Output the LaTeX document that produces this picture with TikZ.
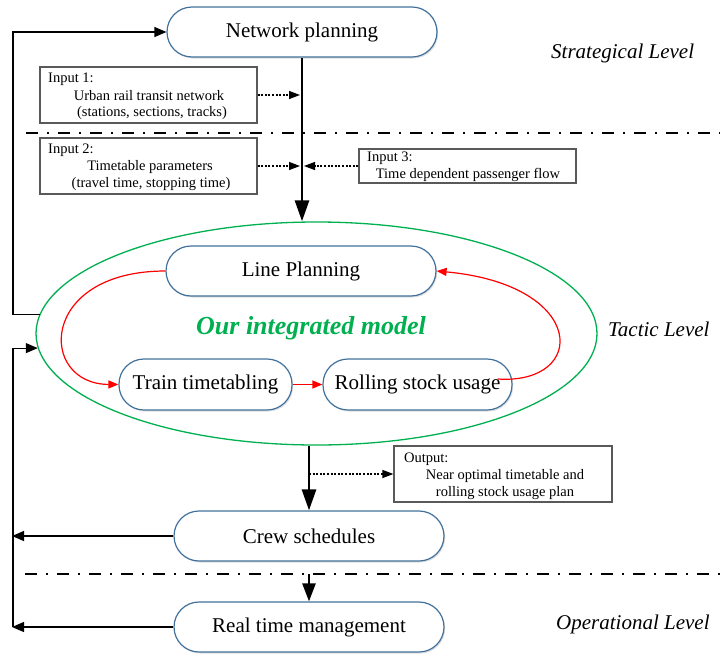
\documentclass[tikz,border=0pt]{standalone}
\usepackage{fontspec}
\setmainfont{Liberation Serif}
\usetikzlibrary{arrows.meta,shapes.geometric,shadows}
\definecolor{boxblue}{HTML}{41719C}
\definecolor{ellgreen}{HTML}{00B050}
\definecolor{boxgray}{HTML}{595959}
\begin{document}
\begin{tikzpicture}[x=1pt,y=-1pt,
  pbox/.style={draw=boxblue, line width=1.2pt, fill=white, rounded corners=25pt,
    font=\fontsize{21}{25}\selectfont, inner sep=0pt,
    drop shadow={shadow xshift=1.2pt, shadow yshift=-1.5pt, opacity=0.25}},
  inbox/.style={draw=boxgray, line width=1.2pt, fill=white, inner sep=0pt},
  small/.style={font=\fontsize{14.5}{17}\selectfont, inner sep=0pt},
  lvl/.style={font=\fontsize{21}{25}\selectfont\itshape, inner sep=0pt, anchor=west},
  thickarr/.style={line width=2.8pt, -{Triangle[length=21pt,width=14pt]}},
  dotarr/.style={line width=1.2pt, dash pattern=on 2pt off 1.6pt, -{Triangle[length=11pt,width=8pt]}},
  fb/.style={line width=1.2pt, -{Triangle[length=12pt,width=10pt]}},
  redarr/.style={red, line width=1.2pt, -{Triangle[length=10pt,width=8pt]}},
  dashdot/.style={line width=2pt, dash pattern=on 12pt off 9pt on 2pt off 9pt},
]
\useasboundingbox (0,0) rectangle (720,654);

% separators
\draw[dashdot] (26,133) -- (720,133);
\draw[dashdot] (25,574) -- (720,574);

% ellipse
\node[draw=ellgreen, line width=1.3pt, ellipse, minimum width=561pt, minimum height=223pt, inner sep=0pt] (ell) at (316.5,333.5) {};

% process boxes
\node[pbox, minimum width=270pt, minimum height=50pt] (np) at (302,32) {Network planning};
\node[pbox, minimum width=270pt, minimum height=50pt] (lp) at (301,271) {Line Planning};
\node[pbox, minimum width=173pt, minimum height=51pt] (tt) at (205.5,384.5) {Train timetabling};
\node[pbox, minimum width=189pt, minimum height=51pt] (rs) at (417.5,384.5) {Rolling stock usage};
\node[pbox, minimum width=270pt, minimum height=50pt] (cs) at (309,536) {Crew schedules};
\node[pbox, minimum width=270pt, minimum height=50pt] (rt) at (309,627) {Real time management};

\node[font=\fontsize{26}{30}\selectfont\bfseries\itshape, text=ellgreen, inner sep=0pt] (om) at (311,328) {Our integrated model};

% input boxes
\node[inbox, minimum width=217pt, minimum height=56pt] (in1) at (148.5,95) {};
\node[small, anchor=west] (in1a) at (48,79) {Input 1:};
\node[small] (in1b) at (149,96) {Urban rail transit network};
\node[small] (in1c) at (152,113) {(stations, sections, tracks)};

\node[inbox, minimum width=217pt, minimum height=56pt] (in2) at (148.5,166) {};
\node[small, anchor=west] (in2a) at (48,150) {Input 2:};
\node[small] (in2b) at (150,167) {Timetable parameters};
\node[small] (in2c) at (151,184) {(travel time, stopping time)};

\node[inbox, minimum width=217pt, minimum height=34pt] (in3) at (467.5,166) {};
\node[small, anchor=west] (in3a) at (367,158) {Input 3:};
\node[small] (in3b) at (468,175) {Time dependent passenger flow};

\node[inbox, minimum width=218pt, minimum height=56pt] (out) at (503,474) {};
\node[small, anchor=west] (outa) at (404,459) {Output:};
\node[small] (outb) at (505,476) {Near optimal timetable and};
\node[small] (outc) at (505,493) {rolling stock usage plan};

% level labels
\node[lvl] (l1) at (551,53) {Strategical Level};
\node[lvl] (l2) at (608,329) {Tactic Level};
\node[lvl] (l3) at (556,624) {Operational Level};

% main flow
\draw[thickarr] (np.south) -- (np.south |- ell.north);
\draw[dotarr, shorten >=2pt] (in1.east) -- (in1.east -| np.south);
\draw[dotarr, shorten >=2pt] (in2.east) -- (in2.east -| np.south);
\draw[dotarr, shorten >=2pt] (in3.west) -- (in3.west -| np.south);

\draw[thickarr] (cs.north |- ell.south) -- (cs.north);
\coordinate (oo) at (cs.north |- out.west);
\draw[dotarr] (oo) -- (out.west);
\coordinate (dd) at (309,574);
\draw[line width=2.5pt, -{Triangle[length=18pt,width=13pt]}] (dd) -- (rt.north);

% red cycle
\draw[redarr] (lp.west) .. controls (38,271) and (38,384) .. (tt.west);
\draw[redarr] (tt.east) -- (rs.west);
\coordinate (rsout) at ([xshift=-15pt,yshift=5.5pt]rs.east);
\draw[redarr] (rsout) .. controls (588,385) and (588,285) .. (lp.east);

% feedback
\coordinate (fbL) at (13,0);
\draw[fb] (ell.176.5) -- (ell.176.5 -| fbL) |- (np.west);
\draw[fb] (rt.west -| fbL) |- (ell.183);
\draw[fb, shorten >=-1pt] (cs.west) -- (cs.west -| fbL);
\draw[fb, shorten >=-1pt] (rt.west) -- (rt.west -| fbL);
\end{tikzpicture}
\end{document}
